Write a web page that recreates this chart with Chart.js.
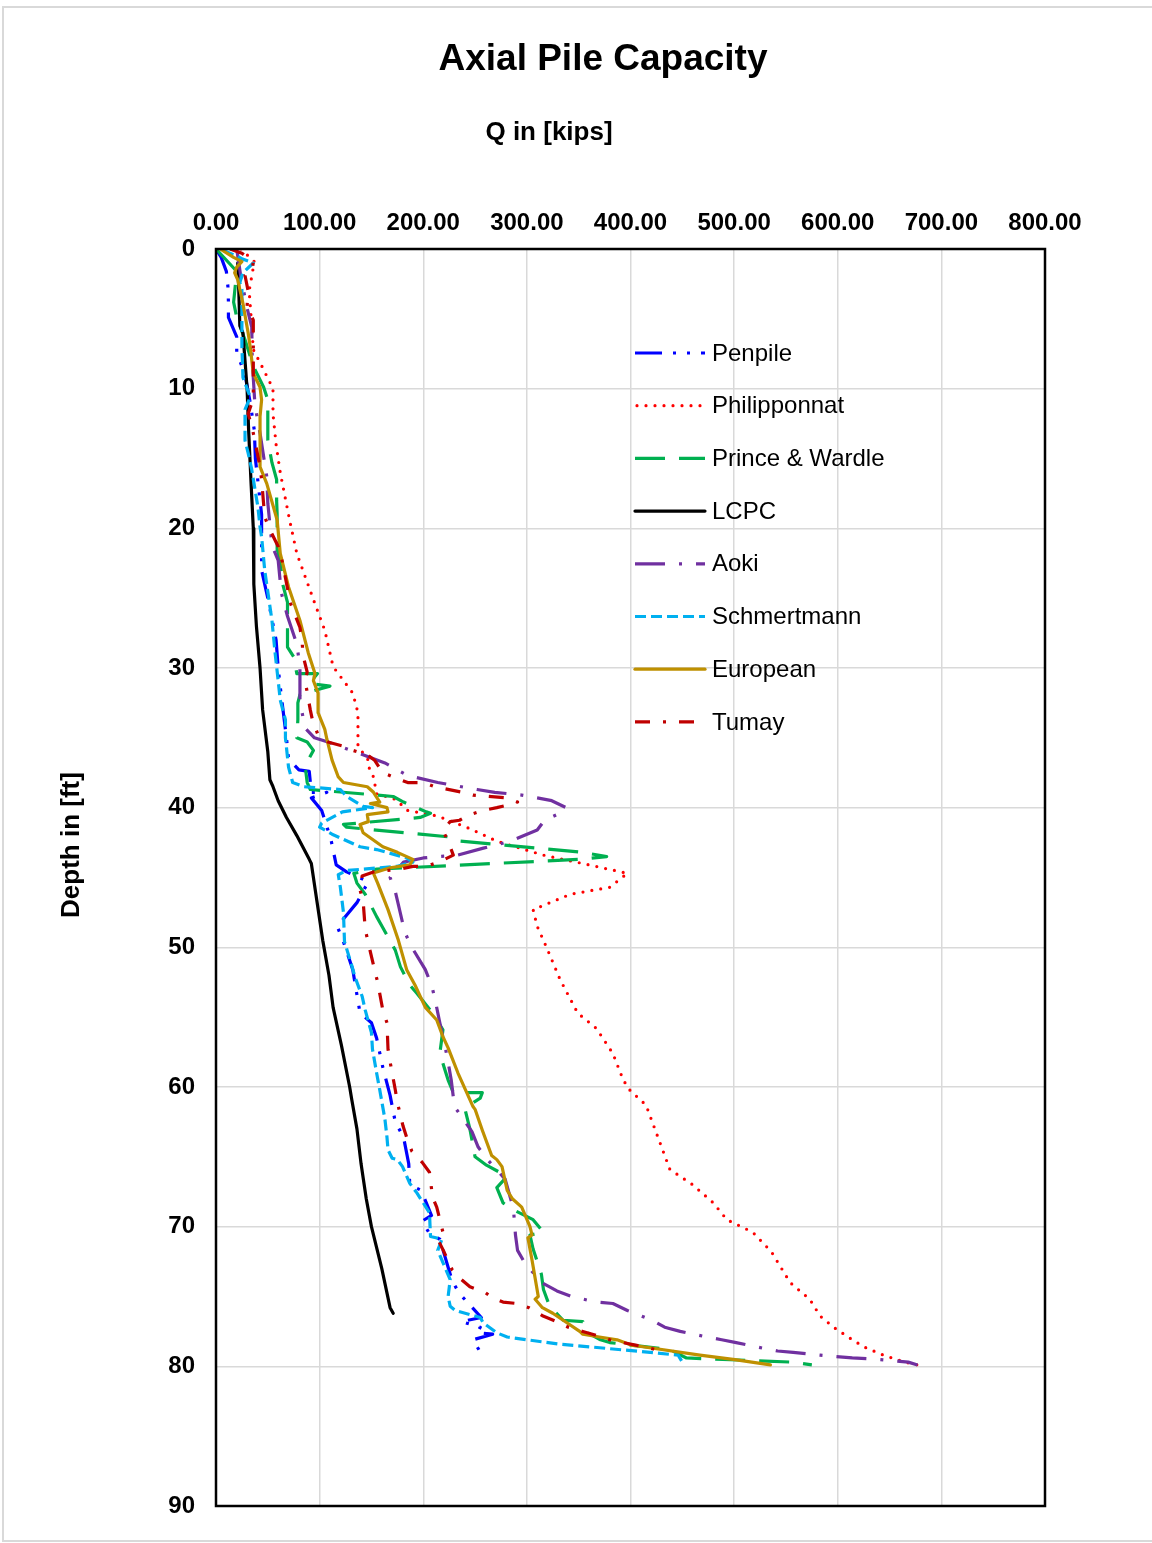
<!DOCTYPE html>
<html>
<head>
<meta charset="utf-8">
<script src="https://cdn.jsdelivr.net/npm/chart.js@4.4.1/dist/chart.umd.min.js"></script>
<style>
  html, body { margin: 0; padding: 0; background: #ffffff; }
  #wrap { width: 1152px; height: 1543px; position: relative; }
  canvas { display: block; }
</style>
</head>
<body>
<div id="wrap"><canvas id="c" width="1152" height="1543"></canvas></div>
<script>
// ---- Data: each series is a list of [depth (ft), Q (kips)] pairs ----
const seriesNames = ["Penpile", "Philipponnat", "Prince & Wardle", "LCPC", "Aoki", "Schmertmann", "European", "Tumay"];

const penpile = [[0,0],[0.6,5],[1.6,10],[2.7,11.5],[3.8,12],[4.9,12],[6.3,20],[7.4,20],[9,28],[11,33],[13,37],[15,38],[17,41],[19,44],[21,44],[23,44],[25,50],[28,58],[30,60],[32,63],[35,68],[36.5,70],[37.3,80],[37.4,90],[38.9,92],[38.9,107],[39.3,92],[40.2,102],[42.3,111],[44.1,116],[44.6,126],[45.3,147],[46.8,136],[48.5,117],[49.6,123],[51.6,132],[53.4,136],[54.7,139],[55.4,150],[56.5,155],[58.6,161],[60.6,168],[62.5,173],[63.6,181],[65.5,186],[67,187],[67.4,198],[69.2,208],[69.6,199],[70.5,206],[70.9,216],[72.9,224],[73.9,228],[74.8,235],[75.6,245],[76.5,256],[76.8,237],[77.2,255],[77.6,252],[77.7,267],[78.1,248],[79.1,256]];

const philipponnat = [[0,24],[0.9,37],[3,32],[5,34],[7.2,36],[8.5,45],[10,55],[11.8,55],[14,58],[16,62],[19.4,71],[21.8,78],[25.3,95],[27.3,105],[29.9,113],[31.8,132],[33.2,137],[35.1,137],[35.6,137],[36.6,147],[37.2,148],[37.8,152],[39,155],[39.4,173],[40.2,185],[40.6,214],[41.5,245],[42.4,271],[43.4,316],[44,354],[44.7,397],[45.7,380],[46.2,342],[47.3,306],[48.5,310],[50,319],[52.3,332],[54.7,349],[55.8,367],[57.6,383],[59.5,393],[60.2,399],[61.3,415],[63.3,425],[65.9,438],[67,460],[68.3,480],[69.5,493],[70.4,518],[71.8,536],[74,554],[75.2,573],[76.4,583],[77.2,596],[77.9,610],[78.6,625],[79.2,644],[79.7,665],[79.9,677]];

const princeWardle = [[0,0],[1.6,20],[3.8,17],[4.9,20],[6.5,28],[8.4,36],[9.9,46],[10.8,50],[12.5,50],[13.7,50],[15.3,54],[16.5,58.5],[18,58.5],[19,59],[21.5,59],[22.3,62],[23.9,64],[25.3,69],[28.5,69],[29.2,75],[30.4,78],[30.4,98],[31.1,90],[31.3,110],[31.9,81],[32.5,79],[33.7,79],[35,78],[35.3,88],[35.9,94],[37,86],[38.2,88],[38.7,91],[39.2,171],[39.6,181],[40.3,203],[40.4,207],[40.7,197],[41.2,123],[41.4,126],[42.1,226],[42.4,236],[43.2,354],[43.5,377],[43.7,351],[44.4,155],[44.7,133],[45.4,136],[46.2,144],[47.8,155],[48.6,161],[50.2,173],[51.4,178],[52.7,187],[53.3,194],[54.7,209],[55.2,213],[55.9,219],[57.6,216],[59.5,224],[60.4,229],[60.4,257],[60.8,255],[61.5,240],[63,245],[65,250],[65.6,261],[66.4,281],[67.2,271],[68.3,277],[68.8,287],[69.5,306],[70.4,316],[70.6,303],[71.6,306],[73.4,314],[74.5,316],[75.7,322],[76.7,335],[76.8,354],[77.4,354],[78.1,371],[78.3,380],[78.8,438],[79.4,454],[79.7,557],[79.9,575]];

const lcpc = [[1,21],[3,22],[5.5,23],[6,26],[8,28],[10,30],[13,31.5],[17,34],[20,36],[24,36.5],[27,39],[30,42.5],[33,45],[36,50],[38,52],[38.5,55],[39.5,60],[40.7,68],[42,78],[43.7,90],[44,92],[46,96],[49.5,103],[52,109],[54.3,113],[57,121],[60,129],[60.9,131],[63,136],[65.5,140],[66.5,142],[68,145],[70,150],[73,160],[75.8,168],[76.2,171]];

const aoki = [[0,20],[2,24],[4.1,29.6],[5.6,34.5],[8,35],[11.2,37.6],[13.2,42.5],[16.3,49],[18.2,50],[21.2,54],[22.3,60],[24.6,63],[26.3,69],[28.3,78],[29.9,81],[32.4,81],[34.3,86],[35,95],[35.3,108],[36,134],[36.8,163],[37.7,185],[38.2,214],[38.7,252],[38.9,269],[39.1,295],[39.3,310],[39.5,324],[40,338],[40.3,335],[40.9,317],[41.6,310],[42.4,284],[42.9,258],[43.4,233],[43.5,214],[43.6,200],[43.9,181],[45,168],[46,173],[47.9,179],[48.9,182],[50,189],[51.6,202],[52.7,208],[53.6,211],[55.4,216],[57.8,223],[59.5,227],[60.7,229],[61.6,232],[63.2,247],[64.3,253],[65.2,262],[66.6,279],[68.7,287],[70.6,289],[71.7,291],[72.6,298],[74,314],[74.6,329],[75,343],[75.4,367],[75.5,383],[76,397],[76.7,421],[77.2,433],[77.5,448],[77.9,474],[78.1,488],[78.3,502],[78.7,528],[78.9,542],[79,557],[79.2,583],[79.4,614],[79.5,639],[79.7,668],[79.9,677]];

const schmertmann = [[0.1,7],[0.5,20],[0.7,25],[1,36],[1.7,26],[2.4,23],[2.9,25],[5,25],[7,25],[9.2,26],[10.6,33],[11.5,28],[13.7,28],[14.6,31],[15.8,34.5],[18.5,40.5],[19.9,42.5],[20.6,44],[23,47],[26.6,54],[28.9,57],[30.9,60],[32.3,62],[33.7,67],[35,67],[37.1,70],[38.2,74],[38.5,85],[38.7,120],[39.2,126],[39.9,142],[40,151],[40.3,122],[41.1,102],[41.4,100],[41.9,112],[42.8,139],[43,155],[43.6,184],[43.9,190],[44.2,175],[44.5,126],[44.8,118],[45.7,120],[47.5,123],[49.6,124],[51.3,131],[52.1,134],[53.5,141],[54.5,144],[56.1,150],[57.3,151],[59,155],[60.2,158],[62.3,163],[63.6,165],[64.5,166],[65.1,170],[65.2,175],[65.7,180],[66.9,187],[67.6,194],[69,206],[70.7,207],[70.9,218],[71.7,214],[73.8,226],[75,224],[75.7,226],[76,231],[76.5,255],[76.9,258],[77.6,271],[77.9,281],[78.4,330],[79,419],[79.2,446],[79.7,450]];

const european = [[0,4],[0.6,17],[0.9,25],[1.3,20],[1.7,18],[2.2,21],[2.9,23],[3.9,26],[6,31],[7,33],[8.9,36],[9.9,42.5],[10.8,44],[12,42.5],[15.6,42.5],[16.8,49],[19.4,59],[21.8,62],[24.2,70],[26.6,81],[28.9,89],[30.4,95.5],[30.9,94],[31.8,98.5],[33.2,98.5],[34.4,105],[35.1,107],[36.6,112],[37.8,118],[38.2,123],[38.5,146],[38.9,152],[39.6,158],[39.7,149],[40,165],[40.3,166],[40.5,146],[41,147],[41.2,139],[41.8,142],[42.8,161],[43.2,175],[43.7,190],[44.1,187],[44.3,168],[44.6,155],[44.7,152],[45.4,156],[47.3,166],[49.5,176],[51.6,184],[52.7,192],[54.3,202],[55.2,213],[56.4,219],[57.2,224],[59,233.5],[60.9,245],[61.4,248],[61.6,250],[63.1,257],[64.9,266],[65.2,271],[65.7,276],[67.4,281],[68,286],[68.6,295],[70,303],[70.6,305],[70.8,301],[72.4,305],[75,311],[75.2,308],[75.8,315],[76.2,325],[76.7,335],[76.9,339],[77.5,351],[77.7,354],[77.9,370],[78.1,387],[78.5,402],[78.6,412],[79.2,467],[79.5,499],[79.9,535]];

const tumay = [[0,13.5],[0.3,25],[0.9,36],[1.5,35],[1.9,28],[3,31],[4.1,30],[5.1,36],[6,36],[7.9,36],[10.7,36],[11.8,31],[12.8,35],[13.8,37.6],[15.6,42.5],[16.5,44],[19.2,47],[20.1,52],[21.3,60],[22.3,63.7],[24.3,69],[25.3,71.5],[27.1,81],[28,83],[29.1,84],[30.3,88],[30.9,86],[33,91],[33.7,93],[34.8,98.5],[35.3,108],[35.6,123],[35.9,132],[36.2,146],[36.6,153],[37.5,161],[37.8,171],[38.2,185],[38.2,200],[38.5,211],[38.9,238],[39.1,248],[39.3,281],[39.6,291],[39.8,282],[40,271],[40.2,258],[40.5,245],[40.9,235],[41,226],[41.6,219],[42.8,226],[43.4,229],[43.9,215],[44.2,203],[44.2,190],[44.4,178],[44.5,165],[44.6,152],[44.9,141],[45.9,139],[46.7,142],[47.7,143],[48.7,144],[49.7,147],[51.6,153],[52.5,156],[54.5,161],[55.4,165],[57.3,166],[58.2,168],[60.2,173],[61.1,175],[62.8,180.5],[63.6,184],[64.6,189],[65.4,199],[66.1,206],[67.9,209],[68.6,213],[70.4,219],[70.9,214],[71.8,220],[73.1,228],[73.7,235.5],[74.3,245],[74.7,259.5],[75.1,267],[75.4,277],[75.5,290],[75.8,302],[76.4,315.6],[76.8,329],[77.2,340],[77.5,354],[77.8,367.6],[78.1,380],[78.3,393],[78.5,406],[78.7,419],[79,435]];

const xTickValues = [0, 100, 200, 300, 400, 500, 600, 700, 800];
const yTickValues = [0, 10, 20, 30, 40, 50, 60, 70, 80, 90];

// ---- Styles ----
const FONT = "'Liberation Sans', Arial, Helvetica, sans-serif";
const styles = [
  { color: '#0000FF', dash: [27, 11, 3, 11, 3, 11], cap: 'butt' },
  { color: '#FF0000', dash: [0, 9], cap: 'round' },
  { color: '#00B050', dash: [30, 14], cap: 'butt' },
  { color: '#000000', dash: [], cap: 'round' },
  { color: '#7030A0', dash: [30, 14, 3, 14], cap: 'butt' },
  { color: '#00B0F0', dash: [11, 5], cap: 'butt' },
  { color: '#BF9000', dash: [], cap: 'round' },
  { color: '#C00000', dash: [15, 13, 3, 13], cap: 'butt' }
];
const allSeries = [penpile, philipponnat, princeWardle, lcpc, aoki, schmertmann, european, tumay];

const datasets = allSeries.map((s, i) => ({
  label: seriesNames[i],
  data: s.map(p => ({ x: p[1], y: p[0] })),
  showLine: true,
  borderColor: styles[i].color,
  backgroundColor: styles[i].color,
  borderWidth: 3.2,
  borderDash: styles[i].dash,
  borderCapStyle: styles[i].cap,
  borderJoinStyle: 'round',
  pointRadius: 0,
  pointHoverRadius: 0,
  fill: false,
  tension: 0,
  order: allSeries.length - i
}));

const decor = {
  id: 'decor',
  beforeDraw(chart) {
    const ctx = chart.ctx;
    ctx.save();
    ctx.fillStyle = '#ffffff';
    ctx.fillRect(0, 0, chart.width, chart.height);
    ctx.strokeStyle = '#d9d9d9';
    ctx.lineWidth = 2;
    ctx.strokeRect(3, 7, 1160, 1534);
    ctx.restore();
  },
  afterDatasetsDraw(chart) {
    const ctx = chart.ctx;
    const a = chart.chartArea;
    ctx.save();
    ctx.strokeStyle = '#000000';
    ctx.lineWidth = 2.5;
    ctx.strokeRect(a.left, a.top, a.right - a.left, a.bottom - a.top);
    ctx.restore();
  },
  afterDraw(chart) {
    const ctx = chart.ctx;
    ctx.save();
    ctx.fillStyle = '#000000';
    ctx.textAlign = 'center';
    ctx.textBaseline = 'middle';
    ctx.font = 'bold 37px ' + FONT;
    ctx.fillText('Axial Pile Capacity', 603, 60);
    ctx.font = 'bold 26px ' + FONT;
    ctx.fillText('Q in [kips]', 549, 133);
    ctx.save();
    ctx.translate(72, 845);
    ctx.rotate(-Math.PI / 2);
    ctx.fillText('Depth in [ft]', 0, 0);
    ctx.restore();

    // legend
    ctx.textAlign = 'left';
    ctx.font = '24px ' + FONT;
    for (let i = 0; i < seriesNames.length; i++) {
      const y = 353 + i * 52.7;
      ctx.save();
      ctx.strokeStyle = styles[i].color;
      ctx.lineWidth = 3.2;
      ctx.lineCap = styles[i].cap;
      ctx.setLineDash(styles[i].dash);
      ctx.beginPath();
      ctx.moveTo(styles[i].cap === 'round' && styles[i].dash.length ? 637 : 635, y);
      ctx.lineTo(705, y);
      ctx.stroke();
      ctx.restore();
      ctx.fillStyle = '#000000';
      ctx.fillText(seriesNames[i], 712, y + 1);
    }
    ctx.restore();
  }
};

Chart.defaults.font.family = FONT;

new Chart(document.getElementById('c'), {
  type: 'scatter',
  data: { datasets },
  options: {
    responsive: false,
    animation: false,
    devicePixelRatio: 1,
    layout: { padding: { left: 0, top: 0, right: 107, bottom: 37 } },
    plugins: {
      legend: { display: false },
      title: { display: false },
      tooltip: { enabled: false }
    },
    scales: {
      x: {
        type: 'linear',
        position: 'top',
        min: 0,
        max: 800,
        afterBuildTicks(scale) { scale.ticks = xTickValues.map(v => ({ value: v })); },
        afterFit(scale) { scale.height = 249; },
        ticks: {
          color: '#000000',
          font: { size: 24, weight: 'bold' },
          padding: 11,
          maxRotation: 0,
          callback: v => Number(v).toFixed(2)
        },
        grid: { color: '#d9d9d9', lineWidth: 1.5, drawTicks: false },
        border: { display: false }
      },
      y: {
        type: 'linear',
        reverse: true,
        min: 0,
        max: 90,
        afterBuildTicks(scale) { scale.ticks = yTickValues.map(v => ({ value: v })); },
        afterFit(scale) { scale.width = 216; },
        ticks: {
          color: '#000000',
          font: { size: 24, weight: 'bold' },
          padding: 21,
          callback: v => String(v)
        },
        grid: { color: '#d9d9d9', lineWidth: 1.5, drawTicks: false },
        border: { display: false }
      }
    }
  },
  plugins: [decor]
});
</script>
</body>
</html>
